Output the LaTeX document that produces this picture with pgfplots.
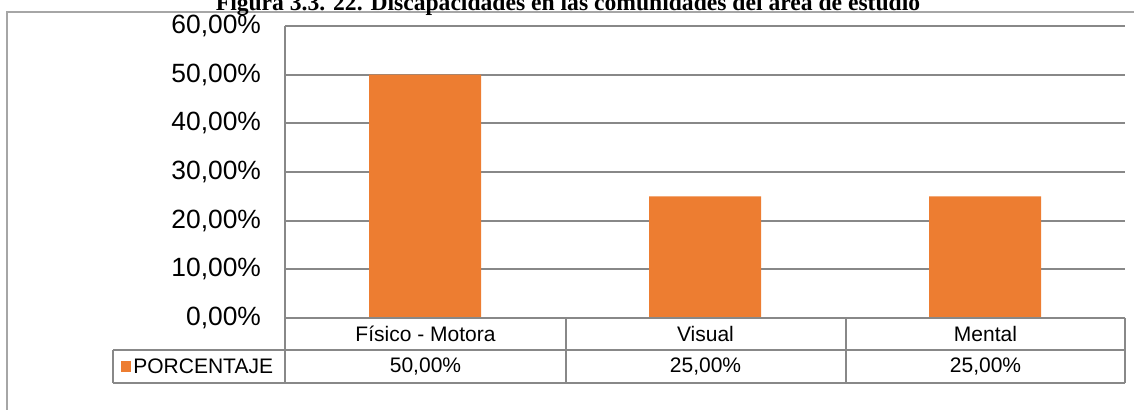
\documentclass[border=0pt]{standalone}
\usepackage{pgfplots}
\pgfplotsset{compat=1.18}
\usepackage{fontspec}
\setmainfont{Liberation Sans}
\newfontfamily\titlefont{Liberation Serif}
\definecolor{barorange}{HTML}{ED7D31}
\definecolor{gridgray}{HTML}{888888}
\definecolor{framegray}{HTML}{A6A6A6}

\begin{document}
\begin{tikzpicture}[x=1pt,y=1pt]
  % 1 px of the reference = 0.5pt here
  \clip (0,0) rectangle (567,205);
  % outer chart frame
  \draw[framegray, line width=0.6pt] (3.5,-5) -- (3.5,199) -- (580,199);
  % title (cut at the top like the reference)
  \node[anchor=base, font=\titlefont\bfseries\fontsize{11.8}{13}\selectfont]
    at (284,199.5) {Figura 3.3. 22. Discapacidades en las comunidades del área de estudio};

  \begin{axis}[
    at={(142.5pt,46pt)}, anchor=south west,
    scale only axis,
    width=420pt, height=146pt,
    xmin=-0.5, xmax=2.5,
    ymin=0, ymax=60,
    ytick={0,10,20,30,40,50,60},
    yticklabels={{0,00\%},{10,00\%},{20,00\%},{30,00\%},{40,00\%},{50,00\%},{60,00\%}},
    xtick=\empty,
    ymajorgrids,
    grid style={gridgray, line width=1.1pt},
    axis x line=none,
    axis y line*=left,
    axis line style={gridgray, line width=1.1pt, -},
    y tick style={draw=none},
    yticklabel style={font=\fontsize{13.2}{15}\selectfont, xshift=-8.5pt},
    /pgf/number format/assume math mode=true,
    clip=false,
  ]
    \addplot[ybar, bar width=56pt, fill=barorange, draw=none]
      coordinates {(0,50) (1,25) (2,25)};
  \end{axis}

  % data table under the axis
  \begin{scope}[gridgray, line width=1.1pt]
    \draw (142.5,46) -- (562.5,46);
    \draw (56.5,30) -- (562.5,30);
    \draw (56.5,13.5) -- (562.5,13.5);
    \draw (56.5,30) -- (56.5,13.5);
    \draw (142.5,46) -- (142.5,13.5);
    \draw (283,46) -- (283,13.5);
    \draw (423,46) -- (423,13.5);
    \draw (562.5,46) -- (562.5,13.5);
  \end{scope}
  \begin{scope}[font=\fontsize{10.5}{12}\selectfont]
    \node at (212.75,38) {Físico - Motora};
    \node at (352.75,38) {Visual};
    \node at (492.75,38) {Mental};
    \node at (212.75,21.75) {50,00\%};
    \node at (352.75,21.75) {25,00\%};
    \node at (492.75,21.75) {25,00\%};
    \fill[barorange] (60.5,19) rectangle (65.5,24.5);
    \node[anchor=west, inner sep=0pt] at (66.5,21.75) {PORCENTAJE};
  \end{scope}
\end{tikzpicture}
\end{document}
